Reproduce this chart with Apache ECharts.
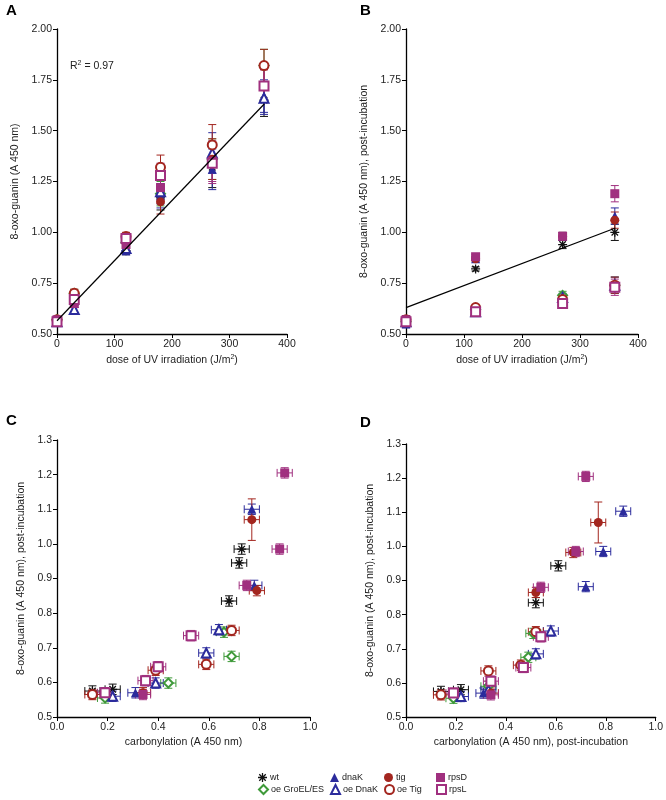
<!DOCTYPE html>
<html><head><meta charset="utf-8">
<script src="https://cdn.jsdelivr.net/npm/echarts@6/dist/echarts.min.js"></script>
<style>html,body{margin:0;background:#fff}#c{width:666px;height:800px}</style>
</head><body><div id="c"></div>
<script>
const strains = ['wt','oe GroEL/ES','dnaK','oe DnaK','tig','oe Tig','rpsD','rpsL'];
const colors = ['#111111','#3f9a3a','#2b2b9c','#2b2b9c','#a3261f','#a3261f','#a0307f','#a0307f'];
const doseA = [0,30,120,180,270,360];
const doseB = [0,120,270,360];
// panel A: 8-oxo-guanin per strain
const valA = [
 [0.57,0.66,0.91,1.17,1.32,1.65],
 [0.57,0.70,0.95,1.19,1.36,1.82],
 [0.56,0.65,0.91,1.18,1.31,1.67],
 [0.56,0.62,0.92,1.20,1.39,1.66],
 [0.57,0.68,0.95,1.15,1.36,1.72],
 [0.57,0.70,0.98,1.32,1.43,1.82],
 [0.57,0.65,0.94,1.22,1.35,1.72],
 [0.56,0.67,0.97,1.28,1.34,1.72]];
const errA = [0.01,0.02,0.02,0.06,0.1,0.08];
const fitA = [[0,0.565],[360,1.63]];
// panel B: post-incubation
const valB = [
 [0.56,0.82,0.94,1.00],
 [0.56,0.62,0.69,0.74],
 [0.55,0.87,0.98,1.08],
 [0.56,0.61,0.68,0.74],
 [0.57,0.87,0.98,1.06],
 [0.57,0.63,0.67,0.74],
 [0.57,0.88,0.98,1.19],
 [0.56,0.61,0.65,0.73]];
const errB = [0.02,0.01,0.02,0.04];
const fitB = [[0,0.63],[360,1.02]];
// panel C: [carbonylation, 8-oxo-guanin]
const ptsC = [
 [[0.14,0.575],[0.22,0.58],[0.68,0.835],[0.72,0.945],[0.73,0.985]],
 [[0.19,0.555],[0.44,0.598],[0.66,0.745],[0.69,0.675]],
 [[0.31,0.57],[0.78,0.88],[0.77,1.10]],
 [[0.22,0.56],[0.39,0.598],[0.59,0.685],[0.64,0.752]],
 [[0.34,0.57],[0.79,0.865],[0.77,1.07]],
 [[0.14,0.565],[0.39,0.635],[0.59,0.652],[0.69,0.75]],
 [[0.34,0.565],[0.75,0.88],[0.88,0.985],[0.90,1.205]],
 [[0.19,0.57],[0.35,0.605],[0.40,0.645],[0.53,0.735]]];
const ptsD = [
 [[0.14,0.575],[0.22,0.58],[0.52,0.835],[0.61,0.943]],
 [[0.19,0.555],[0.33,0.59],[0.49,0.675],[0.51,0.745]],
 [[0.31,0.57],[0.72,0.882],[0.79,0.985],[0.87,1.103]],
 [[0.22,0.56],[0.33,0.58],[0.52,0.685],[0.58,0.752]],
 [[0.34,0.57],[0.52,0.865],[0.67,0.982],[0.77,1.07]],
 [[0.14,0.565],[0.33,0.635],[0.46,0.652],[0.52,0.75]],
 [[0.34,0.565],[0.54,0.88],[0.68,0.985],[0.72,1.205]],
 [[0.19,0.57],[0.34,0.605],[0.47,0.645],[0.54,0.735]]];
const xErrCD = 0.03, yErrCD = 0.015;

const ast = 'path://M-0.7,-5L0.7,-5L0.7,5L-0.7,5Z M-5,-0.7L5,-0.7L5,0.7L-5,0.7Z M-3.1,-4.1L4.1,3.1L3.1,4.1L-4.1,-3.1Z M3.1,-4.1L4.1,-3.1L-3.1,4.1L-4.1,3.1Z';
const symbols = [ast,'emptyDiamond','triangle','emptyTriangle','circle','emptyCircle','rect','emptyRect'];

const F = 'Liberation Sans, Arial, sans-serif';
function xAxis(i,min,max,intv,name,dec){return {gridIndex:i,type:'value',min,max,interval:intv,name,nameLocation:'middle',nameGap:20,
 nameTextStyle:{fontSize:10.5,color:'#222',fontFamily:F,rich:{sup:{fontSize:7,verticalAlign:'top',padding:[0,0,6,0]}}},
 axisLine:{lineStyle:{color:'#000',width:1.3}},axisTick:{length:4,lineStyle:{color:'#000'}},splitLine:{show:false},
 axisLabel:{fontSize:10.5,color:'#222',fontFamily:F,margin:5,formatter:v=>dec?v.toFixed(dec):v}};}
function yAxis(i,min,max,intv,name,dec){return {gridIndex:i,type:'value',min,max,interval:intv,name,nameLocation:'middle',nameGap:dec==2?36:30,
 nameTextStyle:{fontSize:10.5,color:'#222',fontFamily:F},
 axisLine:{show:true,lineStyle:{color:'#000',width:1.3}},axisTick:{show:true,length:4,lineStyle:{color:'#000'}},splitLine:{show:false},
 axisLabel:{fontSize:10.5,color:'#222',fontFamily:F,margin:5,formatter:v=>v.toFixed(dec)}};}

function errSeries(gi,data,color){
 return {type:'custom',xAxisIndex:gi,yAxisIndex:gi,data,silent:true,z:1,
 renderItem:(p,api)=>{
  const x=api.value(0),y=api.value(1),ex=api.value(2),ey=api.value(3);
  const ch=[],st={stroke:color,lineWidth:1};
  if(ey>0){const a=api.coord([x,y-ey]),b=api.coord([x,y+ey]);
   ch.push({type:'line',shape:{x1:a[0],y1:a[1],x2:b[0],y2:b[1]},style:st});
   ch.push({type:'line',shape:{x1:a[0]-4,y1:a[1],x2:a[0]+4,y2:a[1]},style:st});
   ch.push({type:'line',shape:{x1:b[0]-4,y1:b[1],x2:b[0]+4,y2:b[1]},style:st});}
  if(ex>0){const a=api.coord([x-ex,y]),b=api.coord([x+ex,y]);
   ch.push({type:'line',shape:{x1:a[0],y1:a[1],x2:b[0],y2:b[1]},style:st});
   ch.push({type:'line',shape:{x1:a[0],y1:a[1]-4,x2:a[0],y2:a[1]+4},style:st});
   ch.push({type:'line',shape:{x1:b[0],y1:b[1]-4,x2:b[0],y2:b[1]+4},style:st});}
  return {type:'group',children:ch};}};
}
const series=[];
strains.forEach((s,k)=>{
 const c=colors[k];
 const empty=symbols[k].startsWith('empty');
 const sc=(gi,data)=>({type:'scatter',name:s,xAxisIndex:gi,yAxisIndex:gi,data,symbol:symbols[k],symbolSize:9,z:3,
   itemStyle:{color:c,borderColor:c,borderWidth:empty?1.8:0,opacity:1}});
 const dA=doseA.map((d,i)=>[d,valA[k][i]]);
 const dB=doseB.map((d,i)=>[d,valB[k][i]]);
 series.push(errSeries(0,doseA.map((d,i)=>[d,valA[k][i],0,errA[i]]),c), sc(0,dA));
 series.push(errSeries(1,doseB.map((d,i)=>[d,valB[k][i],0,errB[i]]),c), sc(1,dB));
 series.push(errSeries(2,ptsC[k].map(p=>[p[0],p[1],xErrCD,p[1]>1.05&&k==4?0.06:yErrCD]),c), sc(2,ptsC[k]));
 series.push(errSeries(3,ptsD[k].map(p=>[p[0],p[1],xErrCD,p[1]>1.05&&k==4?0.06:yErrCD]),c), sc(3,ptsD[k]));
});
series.push({type:'line',xAxisIndex:0,yAxisIndex:0,data:fitA,symbol:'none',lineStyle:{color:'#000',width:1.2},z:4,silent:true});
series.push({type:'line',xAxisIndex:1,yAxisIndex:1,data:fitB,symbol:'none',lineStyle:{color:'#000',width:1.2},z:4,silent:true});

const legPos=[[258,773],[258,784],[330,773],[330,784],[384,773],[384,784],[436,773],[436,784]];
const legend=strains.map((s,k)=>({left:legPos[k][0],top:legPos[k][1],itemWidth:9,itemHeight:9,itemGap:4,padding:0,
 textStyle:{fontSize:9,color:'#222',fontFamily:F,padding:[0,0,0,-2]},data:[{name:s,icon:symbols[k]}]}));

const chart=echarts.init(document.getElementById('c'),null,{renderer:'canvas'});
chart.setOption({animation:false,
 grid:[{left:57,width:230,top:29,height:305},{left:406,width:232,top:29,height:305},
       {left:57,width:253,top:440,height:277},{left:406,width:250,top:444,height:273}],
 xAxis:[xAxis(0,0,400,100,'dose of UV irradiation (J/m{sup|2})',0),xAxis(1,0,400,100,'dose of UV irradiation (J/m{sup|2})',0),
        xAxis(2,0,1,0.2,'carbonylation (A 450 nm)',1),xAxis(3,0,1,0.2,'carbonylation (A 450 nm), post-incubation',1)],
 yAxis:[yAxis(0,0.5,2,0.25,'8-oxo-guanin (A 450 nm)',2),yAxis(1,0.5,2,0.25,'8-oxo-guanin (A 450 nm), post-incubation',2),
        yAxis(2,0.5,1.3,0.1,'8-oxo-guanin (A 450 nm), post-incubation',1),yAxis(3,0.5,1.3,0.1,'8-oxo-guanin (A 450 nm), post-incubation',1)],
 legend,
 graphic:[
  {type:'text',left:6,top:3,style:{text:'A',font:'bold 15px '+F,fill:'#000'}},
  {type:'text',left:360,top:3,style:{text:'B',font:'bold 15px '+F,fill:'#000'}},
  {type:'text',left:6,top:413,style:{text:'C',font:'bold 15px '+F,fill:'#000'}},
  {type:'text',left:360,top:415,style:{text:'D',font:'bold 15px '+F,fill:'#000'}},
  {type:'text',left:70,top:60,style:{text:'R{s|2} = 0.97',font:'10.5px '+F,fill:'#222',rich:{s:{fontSize:7,verticalAlign:'top',padding:[0,0,6,0]}}}}
 ],
 series});
</script></body></html>
